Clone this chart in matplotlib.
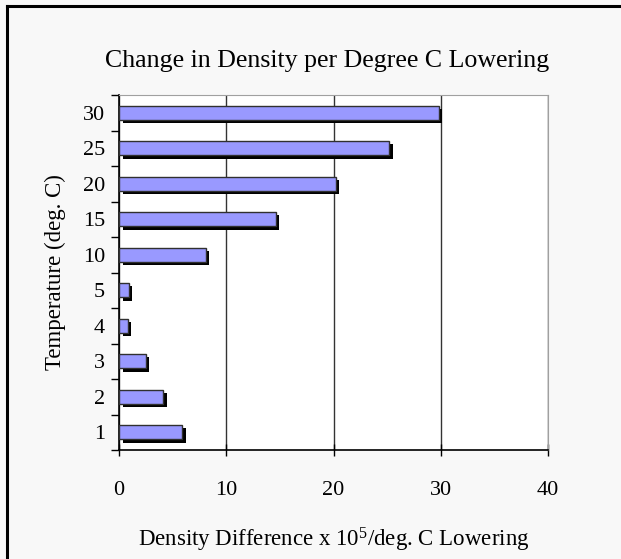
import matplotlib.pyplot as plt
import matplotlib.patheffects as pe
from matplotlib.lines import Line2D

plt.rcParams['font.family'] = ['Liberation Serif', 'DejaVu Serif']
plt.rcParams['mathtext.fontset'] = 'custom'
plt.rcParams['mathtext.rm'] = 'Liberation Serif'
plt.rcParams['mathtext.it'] = 'Liberation Serif:italic'

temps = ["1", "2", "3", "4", "5", "10", "15", "20", "25", "30"]
density_diff = [5.9, 4.1, 2.5, 0.8, 0.9, 8.1, 14.6, 20.2, 25.2, 29.8]

fig = plt.figure(figsize=(6.21, 5.59), dpi=100, facecolor='#f8f8f8')
ax = fig.add_axes([119 / 621, 1 - 450 / 559, (548 - 119) / 621, (450 - 95) / 559])
ax.set_facecolor('white')

ypos = list(range(len(temps)))
bars = ax.barh(ypos, density_diff, height=0.4, color='#9999ff',
               edgecolor='#303030', linewidth=1.0, zorder=3)
for b in bars:
    b.set_path_effects([pe.SimplePatchShadow(offset=(2.6, -2.4), shadow_rgbFace='black', alpha=1.0),
                        pe.Normal()])

ax.set_xlim(0, 40)
ax.set_ylim(-0.5, len(temps) - 0.5)
ax.set_xticks([0, 10, 20, 30, 40])
ax.set_yticks(ypos)
ax.set_yticklabels(temps)
ax.set_yticks([i - 0.5 for i in range(len(temps) + 1)], minor=True)
ax.tick_params(axis='y', which='major', length=0, labelsize=16, pad=10)
ax.tick_params(axis='y', which='minor', length=6, width=1, direction='out')
ax.tick_params(axis='x', length=8, width=1, direction='inout', labelsize=16, pad=18)

ax.grid(axis='x', color='#333333', linewidth=1.0, zorder=0)
for s in ['top', 'right']:
    ax.spines[s].set_color('#a0a0a0')
for s in ['left', 'bottom']:
    ax.spines[s].set_color('black')
    ax.spines[s].set_linewidth(1.2)

ax.set_xlabel(r'Density Difference x 10$^{5}$/deg. C Lowering', fontsize=16.5, labelpad=19)
ax.set_ylabel('Temperature (deg. C)', fontsize=16.5, labelpad=12)
fig.text(0.5 * (106 + 548) / 621, 1 - 61 / 559, 'Change in Density per Degree C Lowering',
         ha='center', va='center', fontsize=18.6)

fig.add_artist(Line2D([7 / 621, 1], [1 - 6 / 559, 1 - 6 / 559], color='black', lw=2.2,
                      transform=fig.transFigure))
fig.add_artist(Line2D([7 / 621, 7 / 621], [0, 1 - 6 / 559], color='black', lw=2.2,
                      transform=fig.transFigure))

fig.savefig('out.png', dpi=100, facecolor=fig.get_facecolor())
